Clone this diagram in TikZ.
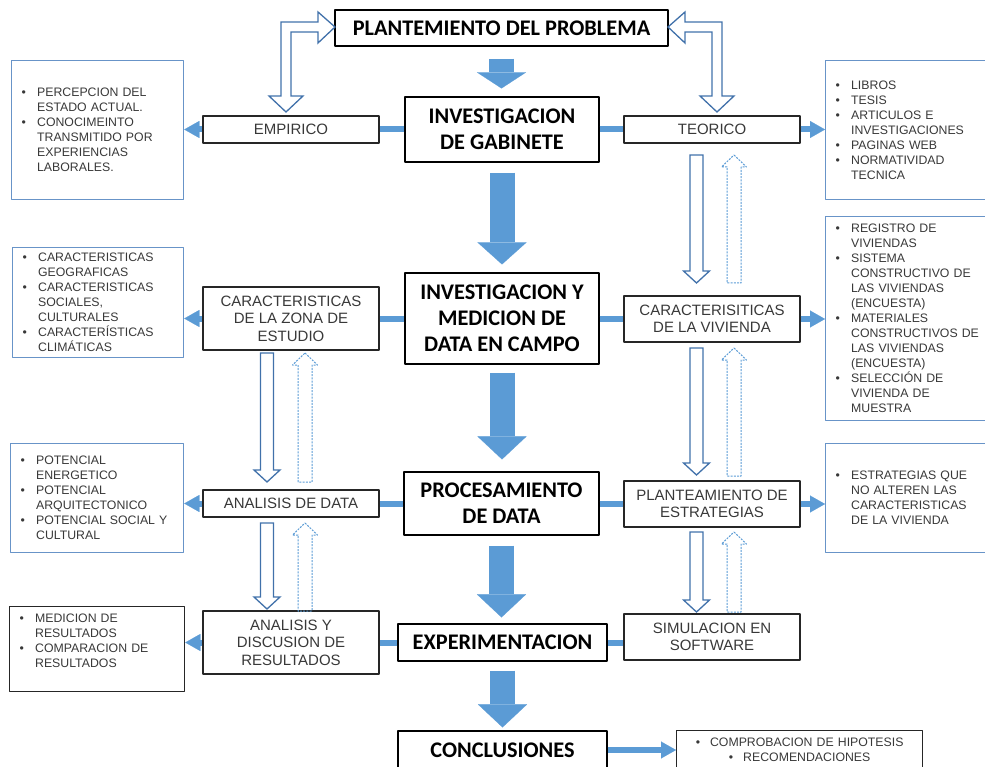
\documentclass[tikz,border=0pt]{standalone}
\usepackage{fontspec}
\setmainfont{Liberation Sans}
\newfontfamily\titulo{Carlito}
\usetikzlibrary{arrows.meta}
\definecolor{azul}{RGB}{91,155,213}
\definecolor{borde}{RGB}{104,148,200}
\definecolor{contorno}{RGB}{65,113,170}
\definecolor{texto}{RGB}{56,56,56}
\newcommand{\vin}[1]{\noindent\hangindent=15.5pt\hangafter=1\makebox[15.5pt][l]{\textbullet}{\let\\\newline #1}\par}

\begin{document}
\begin{tikzpicture}[x=1pt, y=-1pt, line join=round,
	principal/.style={draw, line width=1.2pt, align=center, inner sep=0pt, font=\titulo\bfseries\fontsize{22.3}{26}\selectfont},
	caja/.style={draw=black!85, line width=1.1pt, align=center, inner sep=0pt, text=texto, minimum width=176pt, font=\fontsize{15}{17.5}\selectfont},
	lista/.style={draw=borde, line width=1.3pt, anchor=north west, align=left, inner xsep=10pt, inner ysep=0pt, text=texto, font=\fontsize{12.3}{15}\selectfont},
	conector/.style={draw=azul, line width=6pt},
	flecha/.style={conector, -{Triangle[length=15pt,width=17pt,line width=0.1pt]}},
	bloque/.style={draw=azul, line width=25pt, -{Triangle[length=#1,width=49pt,line width=0.1pt]}},
	hueco/.style={draw=contorno, line width=1.3pt, line join=miter},
	punteado/.style={draw=azul, line width=1pt, dash pattern=on 2pt off 1.2pt}]
	\path[use as bounding box] (0,0) rectangle (985,767);
	\clip (0,0) rectangle (985,767);
	% columna central
	\node[principal, minimum width=333pt, minimum height=36pt] (plan) at (501.5,28) {PLANTEMIENTO DEL PROBLEMA};
	\node[principal, minimum width=194pt, minimum height=65pt] (gab) at (502,129.5) {INVESTIGACION\\DE GABINETE};
	\node[principal, minimum width=194pt, minimum height=91pt] (campo) at (502,318.5) {INVESTIGACION Y\\MEDICION DE\\DATA EN CAMPO};
	\node[principal, minimum width=195pt, minimum height=63pt] (proc) at (501.5,503.5) {PROCESAMIENTO\\DE DATA};
	\node[principal, minimum width=209pt, minimum height=37pt] (exper) at (502.5,642.5) {EXPERIMENTACION};
	\node[principal, minimum width=209pt, minimum height=38pt] (concl) at (502.5,750) {CONCLUSIONES};
	% izquierda y derecha
	\node[caja, minimum height=27pt] (emp) at (291,129.5) {EMPIRICO};
	\node[caja, minimum height=63pt] (zona) at (291,318.5) {CARACTERISTICAS\\DE LA ZONA DE\\ESTUDIO};
	\node[caja, minimum height=27pt] (anal) at (291,503.5) {ANALISIS DE DATA};
	\node[caja, minimum height=63pt] (disc) at (291,642.5) {ANALISIS Y\\DISCUSION DE\\RESULTADOS};
	\node[caja, minimum height=27pt] (teo) at (712,129.5) {TEORICO};
	\node[caja, minimum height=46pt] (viv) at (712,319) {CARACTERISITICAS\\DE LA VIVIENDA};
	\node[caja, minimum height=46pt] (estr) at (712,504) {PLANTEAMIENTO DE\\ESTRATEGIAS};
	\node[caja, minimum height=46pt] (sim) at (712,637) {SIMULACION EN\\SOFTWARE};
	% listas
	\node[lista, text width=152pt, minimum height=139pt] (lemp) at (11,60) {\vin{PERCEPCION DEL\\ESTADO ACTUAL.}\vin{CONOCIMEINTO\\TRANSMITIDO POR\\EXPERIENCIAS\\LABORALES.}};
	\node[lista, text width=155pt, minimum height=139pt] (lteo) at (825,60) {\vin{LIBROS}\vin{TESIS}\vin{ARTICULOS E\\INVESTIGACIONES}\vin{PAGINAS WEB}\vin{NORMATIVIDAD\\TECNICA}};
	\node[lista, text width=151pt, minimum height=110pt] (lzona) at (12,247) {\vin{CARACTERISTICAS\\GEOGRAFICAS}\vin{CARACTERISTICAS\\SOCIALES,\\CULTURALES}\vin{CARACTERÍSTICAS\\CLIMÁTICAS}};
	\node[lista, text width=155pt, minimum height=204pt] (lviv) at (825,216) {\vin{REGISTRO DE\\VIVIENDAS}\vin{SISTEMA\\CONSTRUCTIVO DE\\LAS VIVIENDAS\\(ENCUESTA)}\vin{MATERIALES\\CONSTRUCTIVOS DE\\LAS VIVIENDAS\\(ENCUESTA)}\vin{SELECCIÓN DE\\VIVIENDA DE\\MUESTRA}};
	\node[lista, text width=153pt, minimum height=109pt] (lanal) at (10,443) {\vin{POTENCIAL\\ENERGETICO}\vin{POTENCIAL\\ARQUITECTONICO}\vin{POTENCIAL SOCIAL Y\\CULTURAL}};
	\node[lista, text width=155pt, minimum height=109pt] (lestr) at (825,443) {\vin{ESTRATEGIAS QUE\\NO ALTEREN LAS\\CARACTERISTICAS\\DE LA VIVIENDA}};
	\node[lista, draw=black!85, text width=155pt, minimum height=85pt] (ldisc) at (9,606) {\vin{MEDICION DE\\RESULTADOS}\vin{COMPARACION DE\\RESULTADOS}\vspace*{16pt}};
	\node[lista, draw=black!85, align=center, text width=226pt, minimum height=38pt] (lconcl) at (676,730) {\textbullet\hspace{10pt}COMPROBACION DE HIPOTESIS\\\textbullet\hspace{10pt}RECOMENDACIONES};
	% conectores
	\foreach \a/\b in {gab/emp, campo/zona, proc/anal, exper/disc}
		\draw[conector] (\a.west) -- (\a.west -| \b.east);
	\foreach \a/\b in {gab/teo, campo/viv, proc/estr, exper/sim}
		\draw[conector] (\a.east) -- (\a.east -| \b.west);
	\foreach \a/\b in {emp/lemp, zona/lzona, anal/lanal, disc/ldisc}
		\draw[flecha] (\a.west) -- (\a.west -| \b.east);
	\foreach \a/\b in {teo/lteo, viv/lviv, estr/lestr, concl/lconcl}
		\draw[flecha] (\a.east) -- (\a.east -| \b.west);
	\foreach \a/\b/\s/\e/\h in {plan/gab/12/8/16pt, gab/campo/10/8/22pt, campo/proc/8/12/23pt, proc/exper/10/6/23pt, exper/concl/9/3/23pt}
		\draw[bloque=\h] ([yshift=-\s pt]\a.south) -- ([yshift=\e pt]\a.south |- \b.north);
	% flechas huecas
	\foreach \s in {-1,1}
		\draw[hueco] ({501.5+\s*166.5},27) -- ({501.5+\s*183.5},12) -- ({501.5+\s*183.5},22) -- ({501.5+\s*220.5},22)
			-- ({501.5+\s*220.5},96) -- ({501.5+\s*232.5},96) -- ({501.5+\s*215.5},112) -- ({501.5+\s*198.5},96)
			-- ({501.5+\s*210.5},96) -- ({501.5+\s*210.5},32) -- ({501.5+\s*183.5},32) -- ({501.5+\s*183.5},43) -- cycle;
	\foreach \cx/\yt/\yb in {696.5/155/283, 696.5/348/475, 696.5/532/612, 267/353/482, 267/523/609}
		\draw[hueco] ({\cx-6.5},\yt) -- ({\cx+6.5},\yt) -- ({\cx+6.5},{\yb-12}) -- ({\cx+13},{\yb-12})
			-- (\cx,\yb) -- ({\cx-13},{\yb-12}) -- ({\cx-6.5},{\yb-12}) -- cycle;
	\foreach \cx/\yt/\yb in {734/155/283, 734/348/476, 734/532/612, 305/353/482, 305/523/611}
		\draw[punteado] (\cx,\yt) -- ({\cx+12.5},{\yt+12}) -- ({\cx+7},{\yt+12}) -- ({\cx+7},\yb)
			-- ({\cx-7},\yb) -- ({\cx-7},{\yt+12}) -- ({\cx-12.5},{\yt+12}) -- cycle;
\end{tikzpicture}
\end{document}
